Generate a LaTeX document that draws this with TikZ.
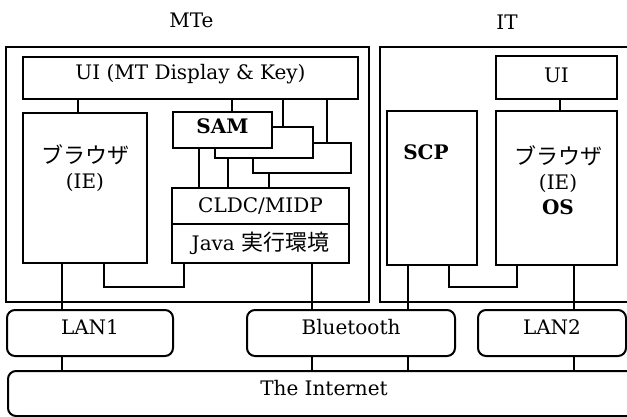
\documentclass[tikz,border=0pt]{standalone}
\usepackage{fontspec}
\setmainfont{DejaVu Serif}
\newfontfamily\jpfont[Scale=1.1]{Noto Sans CJK JP}
\usetikzlibrary{positioning}
\tikzset{
    box/.style = {draw, fill=white, line width=1pt, outer sep=0pt, inner sep=0pt},
    netbox/.style = {box, rounded corners=4pt, minimum height=23pt, text depth=6pt}
}

\begin{document}
\begin{tikzpicture}[x=0.5pt, y=-0.5pt, line width=1pt,
    every node/.style = {font=\fontsize{10}{12.5}\selectfont}]
    \useasboundingbox (0,0) rectangle (627,417);

    % the two terminals
    \node[box, minimum width=181.5pt, minimum height=127.5pt] (mte) at (187.5,174.5) {};
    \node[box, minimum width=127pt, minimum height=127.5pt] (it) at (507,174.5) {};
    \node[above=6pt of mte.north, xshift=2pt] (mtelabel) {MTe};
    \node[above=5pt of it.north] (itlabel) {IT};

    % MTe side
    \node[box, minimum width=167.5pt, minimum height=21pt, text depth=6.5pt] (mui) at (190.5,78)
        {UI (MT Display \& Key)};
    \node[box, minimum width=62pt, minimum height=75pt] (mbrw) at (85,188) {};
    \node[align=center] (mbrwtext) at (85,168) {{\jpfont ブラウザ}\\(IE)};
    \node[box, minimum width=49pt, minimum height=15pt] (sam3) at (302,158) {};
    \node[box, minimum width=49pt, minimum height=15.5pt] (sam2) at (264,142.5) {};
    \node[box, minimum width=49.5pt, minimum height=18pt, text depth=4pt] (sam) at (222.5,130)
        {\bfseries SAM};
    \node[box, minimum width=88.5pt, minimum height=18pt] (cldc) at (260.5,206) {CLDC/MIDP};
    \node[box, minimum width=88.5pt, minimum height=19.5pt, below=0pt of cldc] (java)
        {Java {\jpfont 実行環境}};

    % IT side
    \node[box, minimum width=60.5pt, minimum height=21.5pt, text depth=2.5pt] (iui) at (556.5,77.5) {UI};
    \node[box, minimum width=60.5pt, minimum height=77pt] (ibrw) at (556.5,188) {};
    \node[align=center] (ibrwtext) at (558,180) {{\jpfont ブラウザ}\\(IE)\\\textbf{OS}};
    \node[box, minimum width=45pt, minimum height=77pt] (scp) at (432,188) {};
    \node (scptext) at (426,152) {\bfseries SCP};

    % networks
    \node[netbox, minimum width=83pt] (lan1) at (90,333) {LAN1};
    \node[netbox, minimum width=104pt] (bt) at (351,333) {Bluetooth};
    \node[netbox, minimum width=74pt] (lan2) at (552,333) {LAN2};
    \node[netbox, minimum width=316pt, minimum height=22.5pt, text depth=5.5pt] (net) at (324,393.5)
        {The Internet};

    % straight links
    \foreach \a/\b/\x in {mui/mbrw/78, mui/sam/232, mui/sam2/283, mui/sam3/327,
                          sam/cldc/199, sam2/cldc/228, sam3/cldc/269,
                          mbrw/lan1/62, java/bt/312,
                          iui/ibrw/560, scp/bt/408, ibrw/lan2/574,
                          lan1/net/62, bt/net/312, bt/net/408, lan2/net/574}
        \draw (\a.south -| \x,0) -- (\b.north -| \x,0);

    % bent links
    \draw (mbrw.south -| 104,0) -- ++(0,24) -| (java.south -| 184,0);
    \draw (scp.south -| 449,0) -- ++(0,22) -| (ibrw.south -| 517,0);
\end{tikzpicture}
\end{document}
